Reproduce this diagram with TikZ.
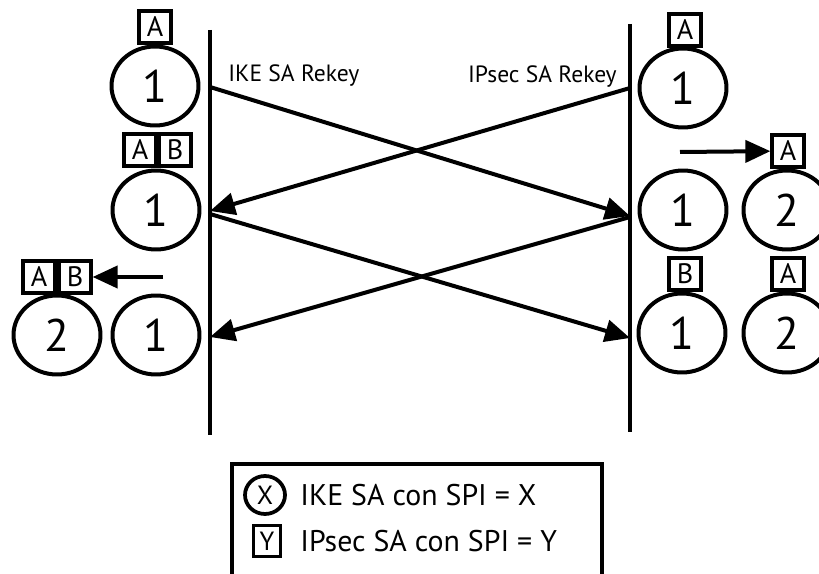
\documentclass[tikz,border=0pt]{standalone}
\usepackage{fontspec}
\setmainfont{PT Sans}
\usepackage{tikz}
\usetikzlibrary{arrows.meta,shapes.geometric}

\begin{document}
\begin{tikzpicture}[
  x=0.02cm, y=-0.02cm,
  sa/.style={draw,ellipse,line width=0.08cm,minimum width=1.74cm,minimum height=1.58cm,inner sep=0pt,font=\fontsize{26}{30}\selectfont},
  spi/.style={draw,line width=0.065cm,minimum width=0.64cm,minimum height=0.64cm,inner sep=0pt,font=\fontsize{16}{18}\selectfont},
  lifeline/.style={line width=0.08cm},
  msg/.style={-{Triangle[length=0.5cm,width=0.44cm]},line width=0.08cm},
  lbl/.style={font=\fontsize{13.4}{16}\selectfont,inner sep=0pt},
  legtxt/.style={font=\fontsize{17}{20}\selectfont,anchor=west,inner sep=0pt}
]
\useasboundingbox (0,0) rectangle (819,574);

% lifelines
\coordinate (ini-top) at (210,30);
\coordinate (ini-bot) at (210,435);
\coordinate (resp-top) at (630,24);
\coordinate (resp-bot) at (630,432);
\draw[lifeline] (ini-top) -- (ini-bot);
\draw[lifeline] (resp-top) -- (resp-bot);

% initiator side
\node[sa] (l1) at (155,86) {1};
\node[spi] (l1a) at (155,27) {A};
\node[sa] (l2) at (156,210) {1};
\node[spi] (l2a) at (140,150) {A};
\node[spi] (l2b) at (175,150) {B};
\node[sa] (l3old) at (156,335) {1};
\node[sa] (l3new) at (57,335) {2};
\node[spi] (l3a) at (39,277) {A};
\node[spi] (l3b) at (75,277) {B};
\coordinate (l3s) at (163,277);
\draw[msg] (l3s) -- (l3b);

% responder side
\node[sa] (r1) at (683,88) {1};
\node[spi] (r1a) at (685,30) {A};
\node[sa] (r2old) at (683,210) {1};
\node[sa] (r2new) at (787,210) {2};
\node[spi] (r2a) at (788,151) {A};
\coordinate (r2s) at (680,152);
\draw[msg] (r2s) -- (r2a);
\node[sa] (r3old) at (682,333) {1};
\node[sa] (r3new) at (787,333) {2};
\node[spi] (r3b) at (685,274) {B};
\node[spi] (r3a) at (788,274) {A};

% exchanges
\coordinate (ike-s) at (210,87);
\coordinate (ike-e) at (630,216);
\coordinate (ips-s) at (630,88);
\coordinate (ips-e) at (210,211);
\coordinate (ike2-s) at (210,214);
\coordinate (ike2-e) at (630,338);
\coordinate (ips2-s) at (630,217);
\coordinate (ips2-e) at (210,337);
\draw[msg] (ike-s) -- (ike-e);
\draw[msg] (ips-s) -- (ips-e);
\draw[msg] (ike2-s) -- (ike2-e);
\draw[msg] (ips2-s) -- (ips2-e);
\node[lbl,anchor=west] (ike-lbl) at (228,76) {IKE SA Rekey};
\node[lbl,anchor=east] (ips-lbl) at (617,77) {IPsec SA Rekey};

% legend
\draw[line width=0.08cm] (232,600) |- (602,464) -- (602,600);
\node[sa,minimum width=0.8cm,minimum height=0.76cm,line width=0.075cm,font=\fontsize{15}{17}\selectfont] (legx) at (265,495) {X};
\node[legtxt] (legx-txt) at (300,495) {IKE SA con SPI = X};
\node[spi,minimum width=0.54cm,minimum height=0.62cm,font=\fontsize{15}{17}\selectfont] (legy) at (267,541) {Y};
\node[legtxt] (legy-txt) at (300,541) {IPsec SA con SPI = Y};
\end{tikzpicture}
\end{document}
